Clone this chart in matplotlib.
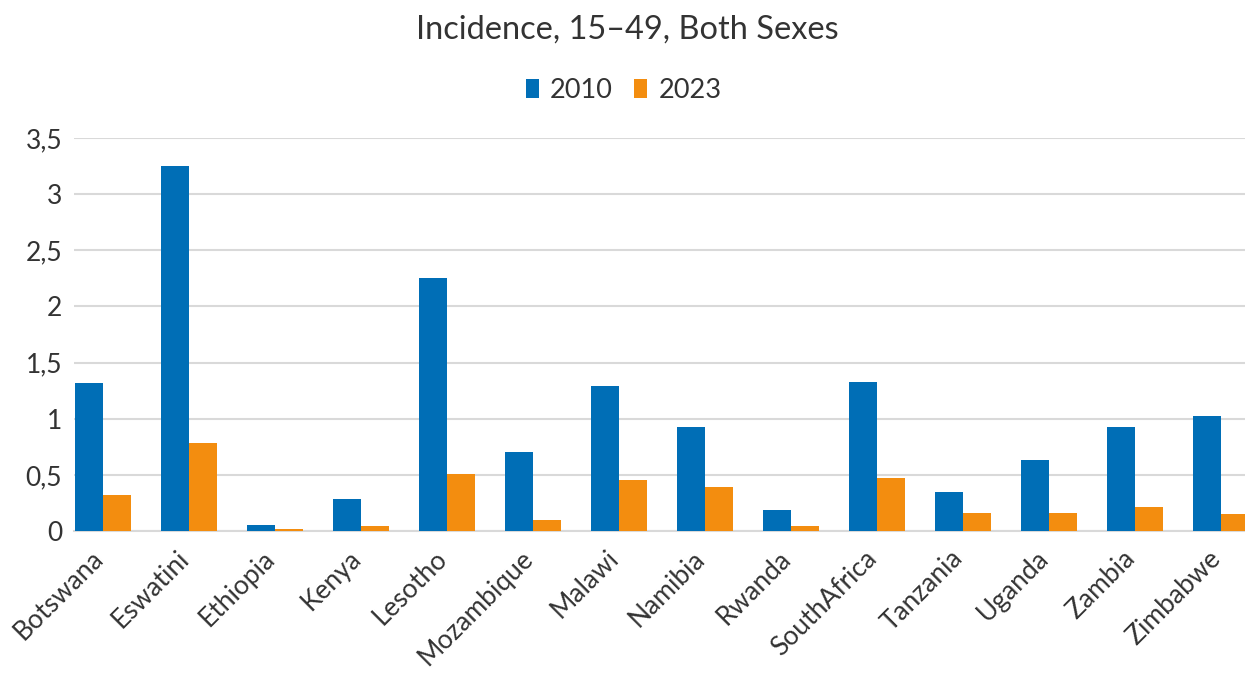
import matplotlib
matplotlib.use("Agg")
import matplotlib.pyplot as plt
import matplotlib.transforms as mtransforms
import numpy as np
from matplotlib.ticker import FuncFormatter

plt.rcParams['font.family'] = ['Lato', 'DejaVu Sans']

countries = ["Botswana", "Eswatini", "Ethiopia", "Kenya", "Lesotho", "Mozambique",
             "Malawi", "Namibia", "Rwanda", "SouthAfrica", "Tanzania", "Uganda",
             "Zambia", "Zimbabwe"]
series_names = ["2010", "2023"]
values_2010 = [1.32, 3.25, 0.053, 0.285, 2.25, 0.70, 1.29, 0.926, 0.187, 1.326,
               0.347, 0.632, 0.926, 1.024]
values_2023 = [0.32, 0.78, 0.018, 0.045, 0.51, 0.098, 0.454, 0.39, 0.045, 0.47,
               0.16, 0.16, 0.214, 0.151]
yticks = [0, 0.5, 1, 1.5, 2, 2.5, 3, 3.5]

blue = "#006EB6"
orange = "#F38D0F"
text_color = "#333333"

fig = plt.figure(figsize=(12.45, 6.73), dpi=100)
ax = fig.add_axes([74/1245, (673-531)/673, 1 - 74/1245, (531-138)/673])

x = np.arange(len(countries))
w = 28/86
ax.bar(x - w/2, values_2010, width=w, color=blue, label=series_names[0], zorder=3)
ax.bar(x + w/2, values_2023, width=w, color=orange, label=series_names[1], zorder=3)

ax.set_xlim(-0.5 + (74-60)/86, 13 + (1245-1221)/86)
ax.set_ylim(0, 3.5)
ax.set_yticks(yticks)
ax.yaxis.set_major_formatter(FuncFormatter(lambda v, p: f"{v:g}".replace(".", ",")))
ax.grid(axis='y', color="#D9D9D9", linewidth=1.5, zorder=0)
for s in ['top', 'right', 'left']:
    ax.spines[s].set_visible(False)
ax.spines['bottom'].set_color("#D9D9D9")
ax.spines['bottom'].set_linewidth(1.5)
ax.tick_params(axis='y', length=0, pad=8.5, labelsize=19, labelcolor=text_color)
ax.tick_params(axis='x', length=0, pad=17)
ax.set_xticks(x)
ax.set_xticklabels(countries, rotation=45, ha='right', va='center', rotation_mode='anchor',
                   fontsize=19, color=text_color)
offset = mtransforms.ScaledTranslation(-4/100, 0, fig.dpi_scale_trans)
for lab in ax.get_xticklabels():
    lab.set_transform(lab.get_transform() + offset)

fig.text(627/1245, 1 - 30/673, "Incidence, 15–49, Both Sexes", ha='center', va='center',
         fontsize=23.4, color=text_color)
leg = fig.legend(loc='center', bbox_to_anchor=(623.5/1245, 1 - 90/673), ncol=2, frameon=False,
                 fontsize=19.5, handlelength=0.5, handleheight=0.7, handletextpad=0.4,
                 columnspacing=0.78)
for t in leg.get_texts():
    t.set_color(text_color)

fig.savefig("out.png", dpi=100)
